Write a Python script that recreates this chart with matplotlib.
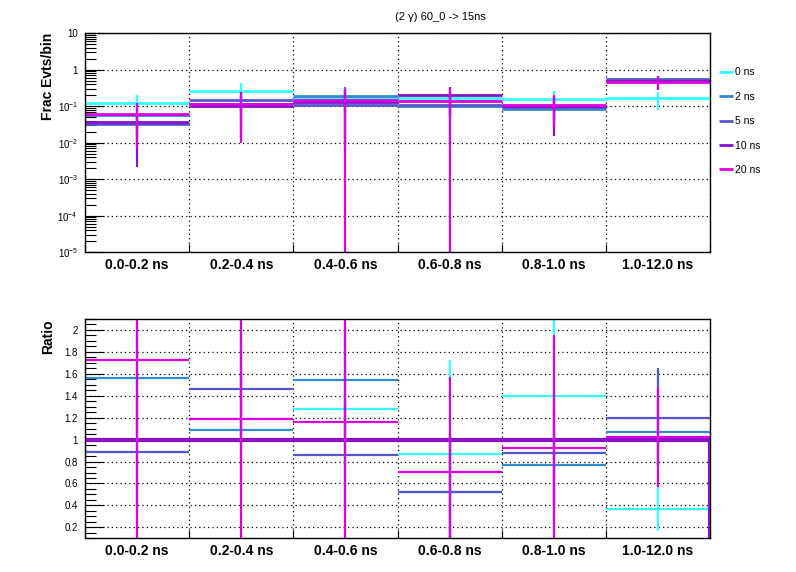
import numpy as np
import matplotlib
matplotlib.use("Agg")
import matplotlib.pyplot as plt
from matplotlib.ticker import FixedLocator, NullFormatter, LogLocator, MultipleLocator

plt.rcParams["font.family"] = ["Liberation Sans", "DejaVu Sans"]
plt.rcParams["mathtext.fontset"] = "custom"
plt.rcParams["mathtext.rm"] = "Liberation Sans"
plt.rcParams["mathtext.it"] = "Liberation Sans:italic"

# ---------------- data ----------------
bins = ["0.0-0.2 ns", "0.2-0.4 ns", "0.4-0.6 ns", "0.6-0.8 ns", "0.8-1.0 ns", "1.0-12.0 ns"]
labels = ["0 ns", "2 ns", "5 ns", "10 ns", "20 ns"]
colors = ["#33ffff", "#2e8ccc", "#5656cc", "#8a10cc", "#dd00e0"]

# fraction of events per bin
frac_0 = [0.123, 0.26, 0.165, 0.17, 0.158, 0.17]
frac_2 = [0.057, 0.112, 0.19, 0.10, 0.085, 0.51]
frac_5 = [0.0316, 0.148, 0.109, 0.109, 0.092, 0.557]
frac_10 = [0.0366, 0.104, 0.126, 0.204, 0.10, 0.49]
frac_20 = [0.0605, 0.115, 0.146, 0.142, 0.109, 0.46]

# errors (lower, upper)
frac_lo_0 = [0.05, 0.10, 0.10, 0.10, 0.08, 0.09]
frac_hi_0 = [0.077, 0.16, 0.10, 0.10, 0.098, 0.07]
frac_lo_2 = [0.04, 0.08, 0.10, 0.05, 0.05, 0.10]
frac_hi_2 = [0.04, 0.08, 0.14, 0.10, 0.05, 0.10]
frac_lo_5 = [0.02, 0.08, 0.10, 0.10, 0.05, 0.08]
frac_hi_5 = [0.02, 0.08, 0.10, 0.10, 0.05, 0.10]
frac_lo_10 = [0.0344, 0.09, 0.12, 0.15, 0.085, 0.10]
frac_hi_10 = [0.03, 0.09, 0.15, 0.126, 0.09, 0.10]
frac_lo_20 = [0.0533, 0.105, 0.146, 0.142, 0.082, 0.185]
frac_hi_20 = [0.0575, 0.13, 0.154, 0.178, 0.09, 0.20]

# ratio to 10 ns
ratio_0 = [3.4, 2.5, 1.275, 0.868, 1.40, 0.37]
ratio_2 = [1.564, 1.089, 1.54, 0.52, 0.77, 1.065]
ratio_5 = [0.888, 1.463, 0.86, 0.523, 0.878, 1.20]
ratio_10 = [1.0, 1.0, 1.0, 1.0, 1.0, 1.0]
ratio_20 = [1.73, 1.19, 1.163, 0.706, 0.927, 1.02]

ratio_err_0 = [1.0, 1.0, 0.5, 0.86, 1.0, 0.2]
ratio_err_2 = [0.5, 0.5, 0.5, 0.5, 0.5, 0.3]
ratio_err_5 = [0.5, 0.5, 0.5, 0.5, 0.5, 0.45]
ratio_err_20 = [3.0, 3.0, 3.0, 0.865, 1.03, 0.45]

frac = [frac_0, frac_2, frac_5, frac_10, frac_20]
frac_lo = [frac_lo_0, frac_lo_2, frac_lo_5, frac_lo_10, frac_lo_20]
frac_hi = [frac_hi_0, frac_hi_2, frac_hi_5, frac_hi_10, frac_hi_20]
ratio_err = [ratio_err_0, ratio_err_2, ratio_err_5, None, ratio_err_20]
ratio = [ratio_0, ratio_2, ratio_5, ratio_10, ratio_20]

edges = np.arange(len(bins) + 1)
centers = edges[:-1] + 0.5

fig = plt.figure(figsize=(7.96, 5.72), dpi=100)
ax1 = fig.add_axes([0.1068, 0.559, 0.7852, 0.3832])
ax2 = fig.add_axes([0.1068, 0.0589, 0.7852, 0.3834])


def style_x(ax):
    ax.set_xlim(0, len(bins))
    ax.set_xticks(edges)
    ax.xaxis.set_major_formatter(NullFormatter())
    ax.set_xticks(centers, bins, minor=True)
    ax.tick_params(axis="x", which="major", direction="in", length=6, width=0.8, top=False)
    ax.tick_params(axis="x", which="minor", length=0, pad=4, labelsize=10)
    for t in ax.get_xticklabels(minor=True):
        t.set_fontweight("bold")
    ax.grid(True, axis="x", which="major", ls=(0, (1, 2.5)), color="black", lw=0.9)
    ax.grid(True, axis="y", which="major", ls=(0, (1, 2.5)), color="black", lw=0.9)
    ax.set_axisbelow(True)
    for s in ax.spines.values():
        s.set_linewidth(1.0)
        s.set_zorder(5)


# ---------------- top: fractions ----------------
ax = ax1
ax.set_yscale("log")
ax.set_ylim(1e-5, 10)
style_x(ax)
decades = [1e-5, 1e-4, 1e-3, 1e-2, 1e-1, 1, 10]
ax.yaxis.set_major_locator(FixedLocator(decades))
ax.set_yticklabels([r"$10^{-5}$", r"$10^{-4}$", r"$10^{-3}$", r"$10^{-2}$", r"$10^{-1}$", "1", "10"])
ax.yaxis.set_minor_locator(LogLocator(base=10, subs=np.arange(2, 10), numticks=20))
ax.yaxis.set_minor_formatter(NullFormatter())
ax.tick_params(axis="y", which="major", direction="in", length=14, width=0.8, labelsize=7, pad=5, right=False)
ax.tick_params(axis="y", which="minor", direction="in", length=8, width=0.8, right=False)
ax.set_ylabel("Frac Evts/bin", fontsize=10, fontweight="bold", loc="top")
ax.yaxis.set_label_coords(-0.048, 1.0)

for i in range(len(labels)):
    v = np.array(frac[i])
    lo = np.maximum(v - np.array(frac_lo[i]), 1e-6)
    hi = v + np.array(frac_hi[i])
    ax.hlines(v, edges[:-1], edges[1:], color=colors[i], lw=2.0, label=labels[i], zorder=3)
    ax.vlines(centers, lo, hi, color=colors[i], lw=1.6, zorder=3)

ax.legend(loc="upper left", bbox_to_anchor=(1.008, 0.862), frameon=False, fontsize=7.5,
          handlelength=1.3, handletextpad=0.25, labelspacing=1.38, borderaxespad=0)

# ---------------- bottom: ratio ----------------
ax = ax2
ax.set_ylim(0.1, 2.1)
style_x(ax)
rticks = [0.2, 0.4, 0.6, 0.8, 1.0, 1.2, 1.4, 1.6, 1.8, 2.0]
ax.set_yticks(rticks, ["0.2", "0.4", "0.6", "0.8", "1", "1.2", "1.4", "1.6", "1.8", "2"])
ax.yaxis.set_minor_locator(MultipleLocator(0.05))
ax.tick_params(axis="y", which="major", direction="in", length=14, width=0.8, labelsize=7, pad=5, right=False)
ax.tick_params(axis="y", which="minor", direction="in", length=8, width=0.8, right=False)
ax.set_ylabel("Ratio", fontsize=10, fontweight="bold", loc="top")
ax.yaxis.set_label_coords(-0.048, 1.0)

for i in range(len(labels)):
    v = np.array(ratio[i])
    if ratio_err[i] is None:
        # reference drawn as a histogram outline, closing at the right edge
        ax.stairs(v, edges, baseline=None, color=colors[i], lw=3.0, zorder=3)
        ax.vlines(edges[-1], 0, v[-1], color=colors[i], lw=3.0, zorder=6, clip_on=True)
        continue
    e = np.array(ratio_err[i])
    ax.hlines(v, edges[:-1], edges[1:], color=colors[i], lw=1.6, zorder=3)
    ax.vlines(centers, v - e, v + e, color=colors[i], lw=1.6, zorder=3)

fig.text(0.553, 0.970, "(2 \u03b3) 60_0 -> 15ns", fontsize=8, ha="center", va="center")

plt.savefig("out.png", dpi=100)
plt.close()
